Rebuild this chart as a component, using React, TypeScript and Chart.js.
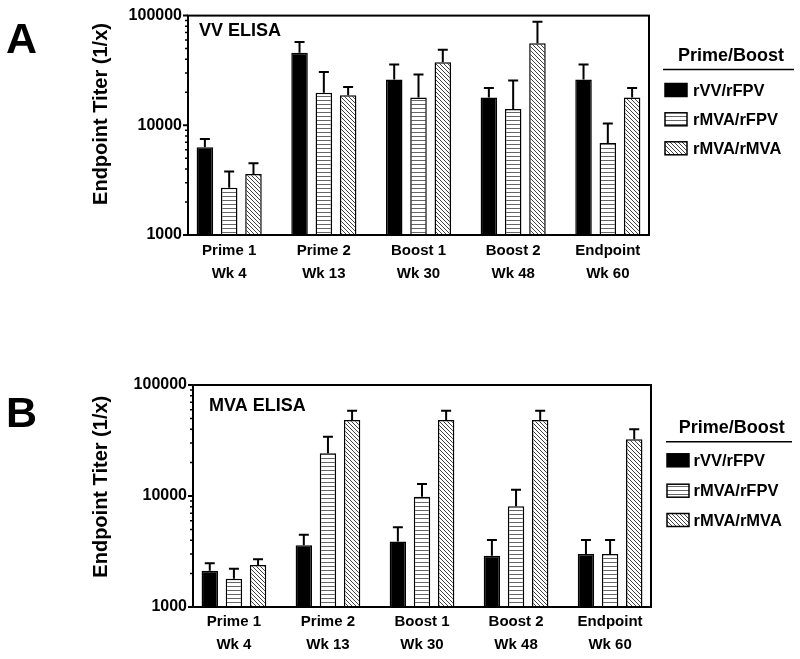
import React, { useEffect, useRef } from "react";
import { Chart, registerables } from "chart.js";

Chart.register(...registerables);

// ---------- data ----------
const categories = ["Prime 1", "Prime 2", "Boost 1", "Boost 2", "Endpoint"];
const weeks = ["Wk 4", "Wk 13", "Wk 30", "Wk 48", "Wk 60"];
const seriesNames = ["rVV/rFPV", "rMVA/rFPV", "rMVA/rMVA"];
const yTicks = [1000, 10000, 100000];

// Panel A: VV ELISA
const vvRvvRfpv = [6300, 45900, 26100, 17900, 26100];
const vvRvvRfpvErr = [7500, 57600, 35800, 21900, 35800];
const vvRmvaRfpv = [2700, 19800, 17900, 14100, 6900];
const vvRmvaRfpvErr = [3800, 30600, 29100, 25600, 10400];
const vvRmvaRmva = [3600, 18800, 37600, 56100, 17900];
const vvRmvaRmvaErr = [4500, 22300, 48800, 87800, 21900];

// Panel B: MVA ELISA
const mvaRvvRfpv = [2120, 3600, 3900, 2900, 3000];
const mvaRvvRfpvErr = [2480, 4480, 5220, 4010, 4010];
const mvaRmvaRfpv = [1800, 24300, 9860, 8070, 3000];
const mvaRmvaRfpvErr = [2210, 34200, 12800, 11400, 4010];
const mvaRmvaRmva = [2390, 48400, 48400, 48400, 32400];
const mvaRmvaRmvaErr = [2690, 58700, 58700, 58700, 39900];

const FONT = "'Liberation Sans', Arial, Helvetica, sans-serif";

function makeHPattern(): CanvasPattern | string {
  const c = document.createElement("canvas");
  c.width = 4;
  c.height = 4;
  const g = c.getContext("2d");
  if (!g) return "#fff";
  g.fillStyle = "#fff";
  g.fillRect(0, 0, 4, 4);
  g.fillStyle = "#666";
  g.fillRect(0, 0, 4, 1);
  return g.createPattern(c, "repeat") || "#fff";
}

function makeDPattern(): CanvasPattern | string {
  const s = 4;
  const c = document.createElement("canvas");
  c.width = s;
  c.height = s;
  const g = c.getContext("2d");
  if (!g) return "#fff";
  g.fillStyle = "#fff";
  g.fillRect(0, 0, s, s);
  g.strokeStyle = "#444";
  g.lineWidth = 1;
  g.beginPath();
  g.moveTo(-1, -1);
  g.lineTo(s + 1, s + 1);
  g.moveTo(-1, s - 1);
  g.lineTo(1, s + 1);
  g.moveTo(s - 1, -1);
  g.lineTo(s + 1, 1);
  g.stroke();
  return g.createPattern(c, "repeat") || "#fff";
}

type Layout = {
  height: number;
  padTop: number;
  padRight: number;
  yWidth: number;
  xHeight: number;
  tickPad: number;
  letter: { x: number; y: number };
  yTitle: { x: number; y: number };
  inner: { x: number; y: number };
  heading: { x: number; y: number };
  rule: { x1: number; x2: number; y: number };
  rows: number[];
  boxX: number;
  textX: number;
};

type PanelProps = {
  letter: string;
  title: string;
  values: number[][];
  errors: number[][];
  layout: Layout;
};

const MARGIN = 0.435;

function Panel({ letter, title, values, errors, layout }: PanelProps) {
  const ref = useRef<HTMLCanvasElement | null>(null);

  useEffect(() => {
    if (!ref.current) return;
    const hPat = makeHPattern();
    const dPat = makeDPattern();
    const fills: any[] = ["#000", hPat, dPat];

    const plugin = {
      id: "panelDecor",
      beforeDraw(chart: any) {
        const ctx = chart.ctx;
        ctx.save();
        ctx.fillStyle = "#fff";
        ctx.fillRect(0, 0, chart.width, chart.height);
        ctx.restore();
      },
      afterDatasetsDraw(chart: any) {
        const ctx = chart.ctx;
        const ys = chart.scales.y;
        ctx.save();
        ctx.strokeStyle = "#000";
        ctx.lineWidth = 2;
        chart.data.datasets.forEach((_ds: any, i: number) => {
          const meta = chart.getDatasetMeta(i);
          meta.data.forEach((el: any, j: number) => {
            const yTop = ys.getPixelForValue(errors[i][j]);
            ctx.beginPath();
            ctx.moveTo(el.x, el.y);
            ctx.lineTo(el.x, yTop);
            ctx.moveTo(el.x - 5, yTop);
            ctx.lineTo(el.x + 5, yTop);
            ctx.stroke();
          });
        });
        ctx.restore();
      },
      afterDraw(chart: any) {
        const ctx = chart.ctx;
        const a = chart.chartArea;
        const ys = chart.scales.y;
        ctx.save();
        // frame
        ctx.strokeStyle = "#000";
        ctx.lineWidth = 2;
        ctx.strokeRect(a.left, a.top, a.right - a.left, a.bottom - a.top);
        // y ticks (major + minor)
        ctx.beginPath();
        yTicks.forEach((t) => {
          const y = ys.getPixelForValue(t);
          ctx.moveTo(a.left - 5, y);
          ctx.lineTo(a.left, y);
        });
        ctx.stroke();
        ctx.lineWidth = 1.5;
        ctx.beginPath();
        for (let d = 0; d < yTicks.length - 1; d++) {
          for (let k = 2; k <= 9; k++) {
            const y = ys.getPixelForValue(yTicks[d] * k);
            ctx.moveTo(a.left - 3, y);
            ctx.lineTo(a.left, y);
          }
        }
        ctx.stroke();

        ctx.fillStyle = "#000";
        // panel letter
        ctx.font = `bold 43px ${FONT}`;
        ctx.textAlign = "left";
        ctx.textBaseline = "alphabetic";
        ctx.fillText(letter, layout.letter.x, layout.letter.y);
        // inner title
        ctx.font = `bold 18px ${FONT}`;
        ctx.fillText(title, layout.inner.x, layout.inner.y);
        // y-axis title
        ctx.save();
        ctx.translate(layout.yTitle.x, layout.yTitle.y);
        ctx.rotate(-Math.PI / 2);
        ctx.font = `bold 20px ${FONT}`;
        ctx.textAlign = "center";
        ctx.textBaseline = "middle";
        ctx.fillText("Endpoint Titer (1/x)", 0, 0);
        ctx.restore();
        // legend
        ctx.font = `bold 18px ${FONT}`;
        ctx.textAlign = "center";
        ctx.textBaseline = "alphabetic";
        ctx.fillText("Prime/Boost", layout.heading.x, layout.heading.y);
        ctx.lineWidth = 1.5;
        ctx.beginPath();
        ctx.moveTo(layout.rule.x1, layout.rule.y);
        ctx.lineTo(layout.rule.x2, layout.rule.y);
        ctx.stroke();
        ctx.font = `bold 16.5px ${FONT}`;
        ctx.textAlign = "left";
        ctx.textBaseline = "middle";
        seriesNames.forEach((name, i) => {
          const cy = layout.rows[i];
          const bw = 22;
          const bh = 13;
          ctx.fillStyle = fills[i];
          ctx.fillRect(layout.boxX, cy - bh / 2, bw, bh);
          ctx.strokeStyle = "#000";
          ctx.lineWidth = 1.5;
          ctx.strokeRect(layout.boxX, cy - bh / 2, bw, bh);
          ctx.fillStyle = "#000";
          ctx.fillText(name, layout.textX, cy + 1);
        });
        ctx.restore();
      },
    };

    const chart = new Chart(ref.current, {
      type: "bar",
      data: {
        datasets: seriesNames.map((name, i) => ({
          label: name,
          data: values[i].map((v, j) => ({ x: j, y: v })),
          backgroundColor: fills[i],
          borderColor: "#000",
          borderWidth: 1.5,
          categoryPercentage: 0.77,
          barPercentage: 0.68,
        })),
      },
      options: {
        animation: false,
        responsive: true,
        maintainAspectRatio: false,
        events: [],
        layout: {
          padding: { left: 0, right: layout.padRight, top: layout.padTop, bottom: 0 },
        },
        plugins: {
          legend: { display: false },
          tooltip: { enabled: false },
          title: { display: false },
        },
        scales: {
          x: {
            type: "linear",
            min: -MARGIN,
            max: categories.length - 1 + MARGIN,
            offset: false,
            grid: { display: false, drawTicks: false, tickLength: 0 },
            border: { display: false },
            afterBuildTicks: (scale: any) => {
              scale.ticks = categories.map((_c, i) => ({ value: i }));
            },
            afterFit: (scale: any) => {
              scale.height = layout.xHeight;
            },
            ticks: {
              autoSkip: false,
              maxRotation: 0,
              minRotation: 0,
              padding: layout.tickPad,
              color: "#000",
              font: { family: FONT, size: 15, weight: "bold", lineHeight: 23 / 15 },
              callback: (v: any) => {
                const i = Math.round(Number(v));
                return categories[i] !== undefined ? [categories[i], weeks[i]] : "";
              },
            },
          },
          y: {
            type: "logarithmic",
            min: yTicks[0],
            max: yTicks[yTicks.length - 1],
            grid: { display: false, drawTicks: false, tickLength: 0 },
            border: { display: false },
            afterBuildTicks: (scale: any) => {
              scale.ticks = yTicks.map((t) => ({ value: t, major: true }));
            },
            afterFit: (scale: any) => {
              scale.width = layout.yWidth;
            },
            ticks: {
              padding: 6,
              color: "#000",
              font: { family: FONT, size: 16, weight: "bold" },
              callback: (v: any) => String(v),
            },
          },
        },
      } as any,
      plugins: [plugin],
    });
    return () => chart.destroy();
  }, []);

  return (
    <div style={{ position: "relative", width: 800, height: layout.height }}>
      <canvas ref={ref} />
    </div>
  );
}

const layoutA: Layout = {
  height: 330,
  padTop: 12,
  padRight: 151,
  yWidth: 188,
  xHeight: 95,
  tickPad: 4,
  letter: { x: 6, y: 53 },
  yTitle: { x: 101, y: 114 },
  inner: { x: 199, y: 36 },
  heading: { x: 731, y: 61 },
  rule: { x1: 663, x2: 794, y: 69.5 },
  rows: [90, 119.3, 148.3],
  boxX: 665,
  textX: 693,
};

const layoutB: Layout = {
  height: 329,
  padTop: 55,
  padRight: 149,
  yWidth: 193,
  xHeight: 52,
  tickPad: 3,
  letter: { x: 6, y: 97 },
  yTitle: { x: 101.5, y: 156.7 },
  inner: { x: 209, y: 80.7 },
  heading: { x: 731.7, y: 102.7 },
  rule: { x1: 666, x2: 792, y: 111.7 },
  rows: [130.3, 160.7, 190],
  boxX: 667,
  textX: 693.5,
};

export default function App() {
  return (
    <div
      style={{
        position: "absolute",
        left: 0,
        top: 0,
        width: 800,
        height: 659,
        background: "#fff",
        overflow: "hidden",
      }}
    >
      <Panel
        letter="A"
        title="VV ELISA"
        values={[vvRvvRfpv, vvRmvaRfpv, vvRmvaRmva]}
        errors={[vvRvvRfpvErr, vvRmvaRfpvErr, vvRmvaRmvaErr]}
        layout={layoutA}
      />
      <Panel
        letter="B"
        title="MVA ELISA"
        values={[mvaRvvRfpv, mvaRmvaRfpv, mvaRmvaRmva]}
        errors={[mvaRvvRfpvErr, mvaRmvaRfpvErr, mvaRmvaRmvaErr]}
        layout={layoutB}
      />
    </div>
  );
}
